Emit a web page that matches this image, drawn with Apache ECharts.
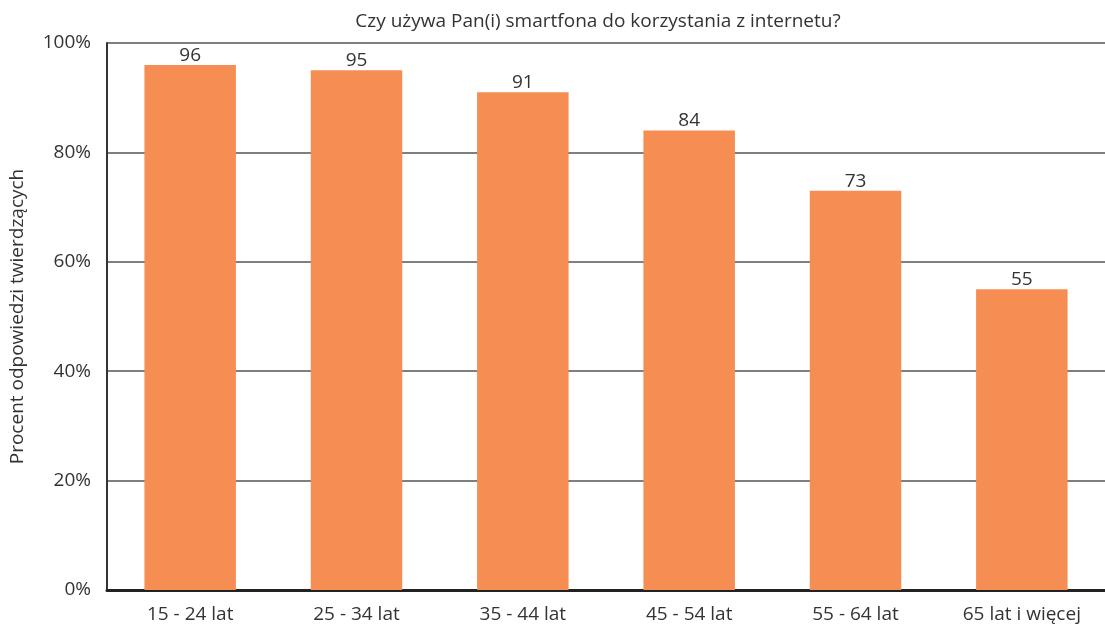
<!DOCTYPE html>
<html lang="pl">
<head>
  <meta charset="UTF-8">
  <title>smartfon</title>
  <style>
    html, body { margin: 0; padding: 0; background: #fff; }
    #chart { width: 1105px; height: 626px; }
  </style>
</head>
<body>
  <div id="chart"></div>
  <script src="https://cdn.jsdelivr.net/npm/echarts@6/dist/echarts.min.js"></script>
  <script>
    // dane
    const categories = ['15 - 24 lat', '25 - 34 lat', '35 - 44 lat', '45 - 54 lat', '55 - 64 lat', '65 lat i więcej']
    const values = [96, 95, 91, 84, 73, 55]

    const chart = echarts.init(document.getElementById('chart'))
    const font = '"Open Sans", "DejaVu Sans", sans-serif'

    chart.setOption({
      animation: false,
      title: {
        text: 'Czy używa Pan(i) smartfona do korzystania z internetu?',
        left: 593,
        textAlign: 'center',
        top: 7,
        textStyle: { fontFamily: font, fontSize: 19, fontWeight: 'normal', color: '#333' }
      },
      grid: { left: 107, right: 0, top: 43, bottom: 36 },
      xAxis: {
        type: 'category',
        data: categories,
        axisLine: { lineStyle: { color: '#222', width: 3 } },
        axisTick: { show: false },
        axisLabel: { fontFamily: font, fontSize: 19, color: '#333', margin: 15 }
      },
      yAxis: {
        type: 'value',
        min: 0,
        max: 100,
        interval: 20,
        name: 'Procent odpowiedzi twierdzących',
        nameLocation: 'middle',
        nameGap: 80,
        nameTextStyle: { fontFamily: font, fontSize: 19, color: '#333' },
        axisLine: { show: true, lineStyle: { color: '#333', width: 2 } },
        axisTick: { show: false },
        axisLabel: { fontFamily: font, fontSize: 19, color: '#333', margin: 16, padding: [10, 0, 0, 0], formatter: '{value}%' },
        splitLine: { lineStyle: { color: '#555', width: 1.5 } }
      },
      series: [{
        type: 'bar',
        data: values,
        barWidth: '55%',
        itemStyle: { color: '#F68D53' },
        label: {
          show: true,
          position: 'top',
          distance: 0,
          fontFamily: font,
          fontSize: 19,
          color: '#333'
        }
      }]
    })
  </script>
</body>
</html>
